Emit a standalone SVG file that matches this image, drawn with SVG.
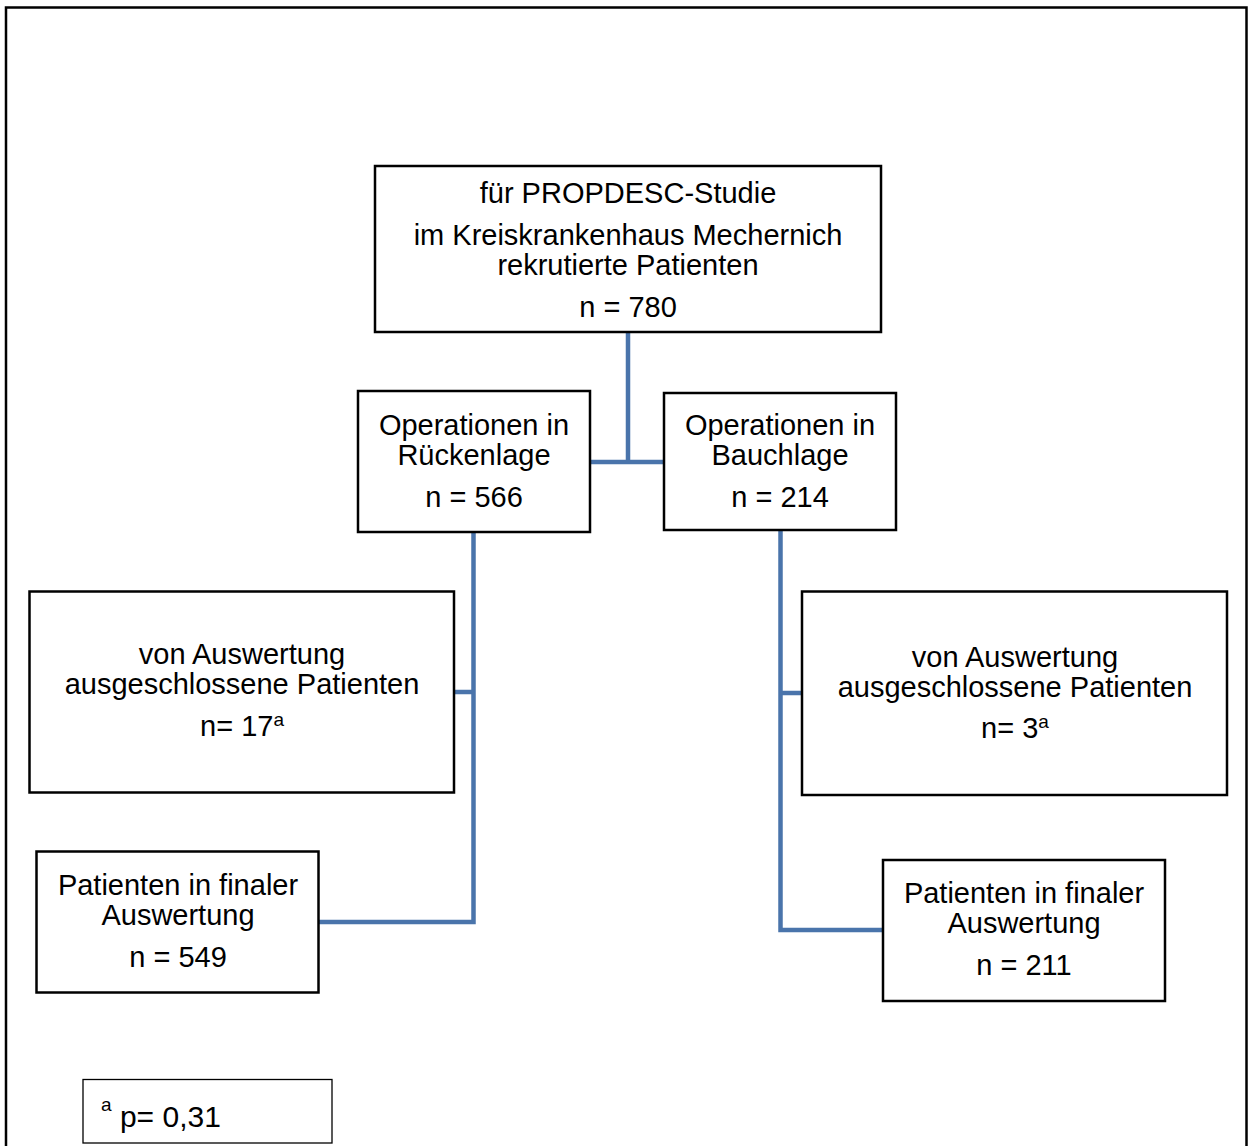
<svg xmlns="http://www.w3.org/2000/svg" width="1249" height="1146" viewBox="0 0 1249 1146">
<style>
.box{fill:#fff;stroke:#000;stroke-width:2.5}
.t{font-family:"Liberation Sans",Arial,sans-serif;font-size:29px;fill:#000;text-anchor:middle}
.sup{font-size:19px}
.c{fill:none;stroke:#4a74ab;stroke-width:4.5;stroke-linejoin:miter;stroke-linecap:square}
</style>
<rect x="0" y="0" width="1249" height="1146" fill="#fff"/>
<rect id="frame" x="6" y="7.5" width="1240.5" height="1150" fill="none" stroke="#000" stroke-width="2.5"/>
<g id="connectors">
<path class="c" d="M628,333 V462 M591,462 H663"/>
<path class="c" d="M473.5,533 V922 H320 M455,692 H473.5"/>
<path class="c" d="M780.5,531 V930 H881 M780.5,693 H801"/>
</g>
<g id="n_top">
<rect class="box" x="375" y="166" width="506" height="166"/>
<text class="t" x="628" y="203">für PROPDESC-Studie</text>
<text class="t" x="628" y="245">im Kreiskrankenhaus Mechernich</text>
<text class="t" x="628" y="275">rekrutierte Patienten</text>
<text class="t" x="628" y="317">n = 780</text>
</g>
<g id="n_ruecken">
<rect class="box" x="358" y="391" width="232" height="141"/>
<text class="t" x="474" y="435">Operationen in</text>
<text class="t" x="474" y="465">Rückenlage</text>
<text class="t" x="474" y="507">n = 566</text>
</g>
<g id="n_bauch">
<rect class="box" x="664" y="393" width="232" height="137"/>
<text class="t" x="780" y="435">Operationen in</text>
<text class="t" x="780" y="465">Bauchlage</text>
<text class="t" x="780" y="507">n = 214</text>
</g>
<g id="n_excl_left">
<rect class="box" x="29.5" y="591.5" width="424.5" height="201"/>
<text class="t" x="242" y="664">von Auswertung</text>
<text class="t" x="242" y="694">ausgeschlossene Patienten</text>
<text class="t" x="242" y="736">n= 17<tspan class="sup" dy="-10">a</tspan></text>
</g>
<g id="n_excl_right">
<rect class="box" x="802" y="591.5" width="425" height="203.5"/>
<text class="t" x="1015" y="667">von Auswertung</text>
<text class="t" x="1015" y="697">ausgeschlossene Patienten</text>
<text class="t" x="1015" y="738">n= 3<tspan class="sup" dy="-10">a</tspan></text>
</g>
<g id="n_final_left">
<rect class="box" x="36.5" y="851.5" width="282" height="141"/>
<text class="t" x="178" y="895">Patienten in finaler</text>
<text class="t" x="178" y="925">Auswertung</text>
<text class="t" x="178" y="967">n = 549</text>
</g>
<g id="n_final_right">
<rect class="box" x="883" y="860" width="282" height="141"/>
<text class="t" x="1024" y="903">Patienten in finaler</text>
<text class="t" x="1024" y="933">Auswertung</text>
<text class="t" x="1024" y="975">n = 211</text>
</g>
<g id="footnote">
<rect x="83" y="1079.5" width="249" height="63.5" fill="#fff" stroke="#000" stroke-width="1.3"/>
<text x="101" y="1127" font-family="Liberation Sans, Arial, sans-serif" font-size="30" fill="#000"><tspan font-size="19" dy="-16">a</tspan><tspan dy="16"> p= 0,31</tspan></text>
</g>
</svg>
